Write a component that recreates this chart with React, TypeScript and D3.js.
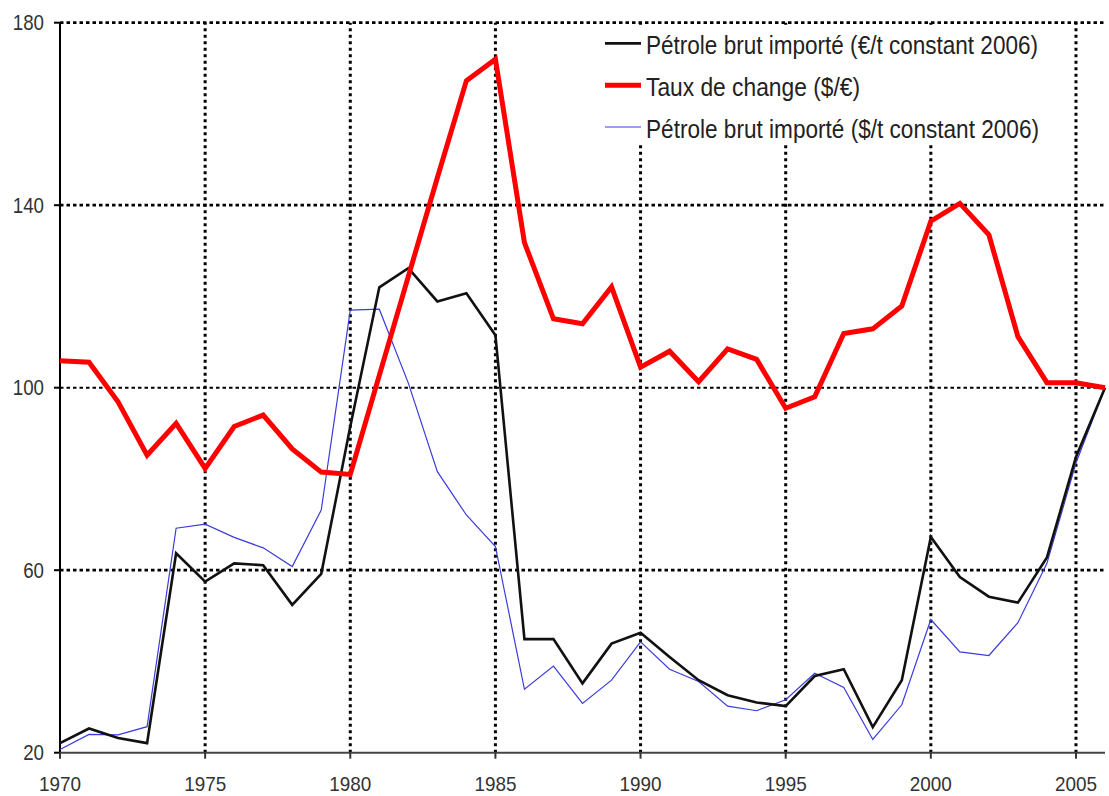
import React from 'react';
import * as d3 from 'd3';

const years = [
  1970, 1971, 1972, 1973, 1974, 1975, 1976, 1977, 1978, 1979,
  1980, 1981, 1982, 1983, 1984, 1985, 1986, 1987, 1988, 1989,
  1990, 1991, 1992, 1993, 1994, 1995, 1996, 1997, 1998, 1999,
  2000, 2001, 2002, 2003, 2004, 2005, 2006,
];
// Pétrole brut importé (€/t constant 2006), index
const petroleEur = [
  22.1, 25.3, 23.2, 22.1, 63.7, 57.5, 61.5, 61.1, 52.4, 59.2,
  91.5, 122.0, 126.2, 118.9, 120.7, 111.5, 44.9, 44.9, 35.2, 43.9,
  46.3, 41.0, 35.9, 32.6, 31.0, 30.2, 36.8, 38.3, 25.6, 35.9,
  67.3, 58.5, 54.2, 52.9, 62.8, 84.8, 100,
];
// Taux de change ($/€), index
const tauxChange = [
  105.9, 105.6, 96.9, 85.2, 92.2, 82.3, 91.5, 94.0, 86.6, 81.5,
  81.0, 102.7, 124.4, 146.0, 167.3, 172.0, 131.8, 115.1, 114.0, 122.1,
  104.5, 108.0, 101.3, 108.5, 106.2, 95.5, 98.0, 111.9, 112.9, 117.9,
  136.5, 140.4, 133.5, 111.2, 101.1, 101.1, 100,
];
// Pétrole brut importé ($/t constant 2006), index
const petroleUsd = [
  20.7, 24.0, 23.9, 25.7, 69.2, 70.1, 67.2, 64.9, 60.8, 73.2,
  117.0, 117.2, 101.0, 81.6, 72.1, 65.2, 33.9, 39.0, 30.8, 35.9,
  44.3, 38.3, 35.6, 30.2, 29.2, 31.6, 37.4, 34.3, 22.9, 30.5,
  49.2, 42.1, 41.3, 48.5, 61.5, 83.5, 100,
];

const yTicks = [20, 60, 100, 140, 180];
const xTicks = [1970, 1975, 1980, 1985, 1990, 1995, 2000, 2005];
const legendLabels = [
  'Pétrole brut importé (€/t constant 2006)',
  'Taux de change ($/€)',
  'Pétrole brut importé ($/t constant 2006)',
];

const W = 1109;
const H = 796;
const margin = { left: 60, right: 4, top: 22.7, bottom: 43.3 };
const font = '"Liberation Sans", Arial, sans-serif';

export default function App() {
  const x = d3.scaleLinear()
    .domain([1970, 2006])
    .range([margin.left, W - margin.right]);
  const y = d3.scaleLinear()
    .domain([20, 180])
    .range([H - margin.bottom, margin.top]);

  const line = (vals: number[]) =>
    d3.line<number>()
      .x((_, i) => x(years[i]))
      .y((d) => y(d))(vals) || '';

  const series = [
    { vals: petroleUsd, color: '#3c3cdc', width: 1.2 },
    { vals: petroleEur, color: '#111', width: 2.6 },
    { vals: tauxChange, color: '#ff0000', width: 5 },
  ];
  const legend = [
    { color: '#111', width: 2.6, len: 392 },
    { color: '#ff0000', width: 5, len: 214 },
    { color: '#3c3cdc', width: 1.2, len: 393 },
  ];

  return (
    <svg width={W} height={H} style={{ position: 'absolute', left: 0, top: 0, background: '#fff' }}>
      {/* grid */}
      {yTicks.filter((t) => t > 20).map((t) => (
        <line key={'gy' + t} x1={x(1970)} x2={x(2006)} y1={y(t)} y2={y(t)}
          stroke="#000" strokeWidth={t === 100 ? 2 : 2.8} strokeDasharray="3.5,3" />
      ))}
      {xTicks.filter((t) => t > 1970).map((t) => (
        <line key={'gx' + t} x1={x(t)} x2={x(t)} y1={y(20)} y2={y(180)}
          stroke="#000" strokeWidth={3} strokeDasharray="3,3.5" />
      ))}

      {/* legend box hides the grid behind it */}
      <rect x={598} y={26} width={450} height={118} fill="#fff" />

      {/* axes */}
      <line x1={x(1970)} x2={x(1970)} y1={y(180)} y2={y(20)} stroke="#000" strokeWidth={2} />
      <line x1={x(1970)} x2={x(2006)} y1={y(20)} y2={y(20)} stroke="#444" strokeWidth={2} />
      {yTicks.map((t) => (
        <g key={'ty' + t}>
          <line x1={x(1970) - 6} x2={x(1970)} y1={y(t)} y2={y(t)} stroke="#000" strokeWidth={2} />
          <text x={44} y={y(t) + 7.5} textAnchor="end" fontFamily={font} fontSize={21.5} fill="#333"
            textLength={String(t).length * 10.4} lengthAdjust="spacingAndGlyphs">{t}</text>
        </g>
      ))}
      {xTicks.map((t) => (
        <g key={'tx' + t}>
          <line x1={x(t)} x2={x(t)} y1={y(20)} y2={y(20) + 6} stroke="#333" strokeWidth={2} />
          <text x={x(t)} y={790.5} textAnchor="middle" fontFamily={font} fontSize={21} fill="#333"
            textLength={42} lengthAdjust="spacingAndGlyphs">{t}</text>
        </g>
      ))}

      {/* series */}
      {series.map((s, i) => (
        <path key={'s' + i} d={line(s.vals)} fill="none" stroke={s.color}
          strokeWidth={s.width} strokeLinejoin="miter" />
      ))}

      {/* legend */}
      {legend.map((l, i) => {
        const ly = 43.4 + i * 41.8;
        return (
          <g key={'lg' + i}>
            <line x1={605} x2={641} y1={ly} y2={ly} stroke={l.color} strokeWidth={l.width} />
            <text x={646} y={ly + 10.8} fontFamily={font} fontSize={25} fill="#222"
              textLength={l.len} lengthAdjust="spacingAndGlyphs">{legendLabels[i]}</text>
          </g>
        );
      })}
    </svg>
  );
}
